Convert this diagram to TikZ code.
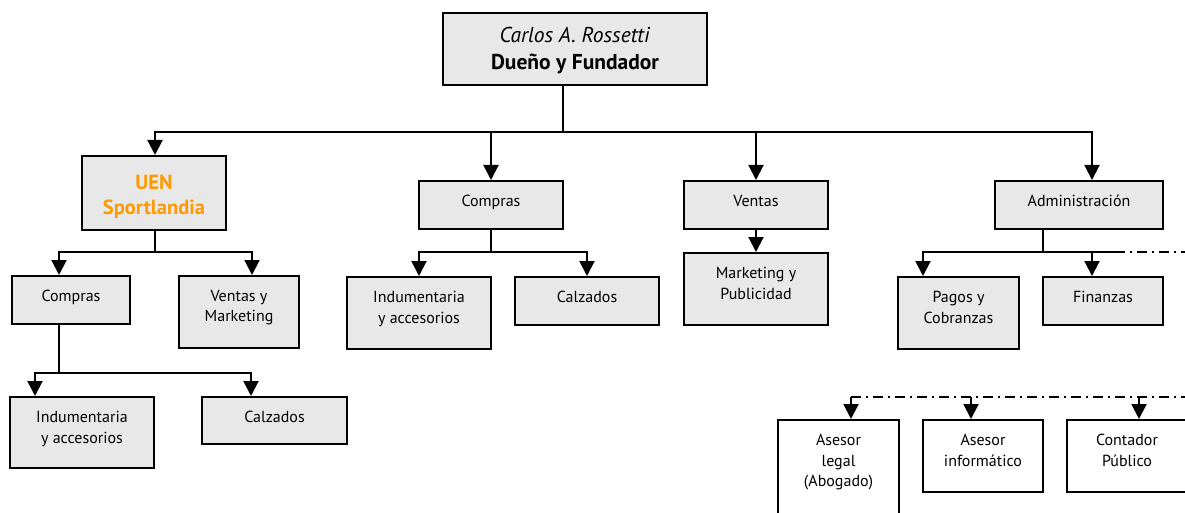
\documentclass[tikz,border=0pt]{standalone}
\usepackage{fontspec}
\setmainfont{PT Sans}
\usetikzlibrary{arrows.meta,calc}
\definecolor{boxgray}{HTML}{E8E8E8}
\definecolor{uenorange}{HTML}{FF9A00}
\tikzset{
  box/.style={draw=black, line width=2pt, fill=boxgray, rectangle, inner sep=0pt},
  wbox/.style={box, fill=white},
  txt/.style={anchor=north, align=center, inner sep=0pt, font=\fontsize{16}{20.5}\selectfont},
  conn/.style={line width=2pt},
  arr/.style={conn, -{Triangle[length=15pt,width=15pt]}},
  dd/.style={line width=2pt, dash pattern=on 10pt off 5pt on 2pt off 5pt},
}
\begin{document}
\begin{tikzpicture}[x=1pt,y=-1pt]
\useasboundingbox (0,0) rectangle (1185,513);
\clip (0,0) rectangle (1185,513);
\fill[white] (0,0) rectangle (1185,513);
% boxes
\node[box, minimum width=264pt, minimum height=72pt] (top) at (575,49) {};
\node[box, minimum width=144pt, minimum height=74pt] (uen) at (154,193) {};
\node[box, minimum width=144pt, minimum height=48pt] (com1) at (491,205) {};
\node[box, minimum width=144pt, minimum height=48pt] (ven1) at (756,205) {};
\node[box, minimum width=168pt, minimum height=48pt] (adm) at (1079,205) {};
\node[box, minimum width=118pt, minimum height=48pt] (com2) at (71,300) {};
\node[box, minimum width=120pt, minimum height=72pt] (vym) at (239,312) {};
\node[box, minimum width=144pt, minimum height=71pt] (ind1) at (82,432.5) {};
\node[box, minimum width=145pt, minimum height=47pt] (cal1) at (274.5,420.5) {};
\node[box, minimum width=144pt, minimum height=72pt] (ind2) at (419,313) {};
\node[box, minimum width=144pt, minimum height=48pt] (cal2) at (587,301) {};
\node[box, minimum width=144pt, minimum height=72pt] (myp) at (756,289) {};
\node[box, minimum width=121pt, minimum height=72pt] (pag) at (958.5,313) {};
\node[box, minimum width=120pt, minimum height=48pt] (fin) at (1103,301) {};
\node[wbox, minimum width=121pt, minimum height=120pt] (leg) at (838.5,480) {};
\node[wbox, minimum width=120pt, minimum height=72pt] (inf) at (983,456) {};
\node[wbox, minimum width=120pt, minimum height=72pt] (con) at (1127,456) {};
% texts
\node[anchor=center, align=center, inner sep=0pt, font=\fontsize{21.5}{27}\selectfont] (topt) at (575,51) {\textit{Carlos A. Rossetti}\\\textbf{Dueño y Fundador}};
\node[anchor=center, align=center, inner sep=0pt, text=uenorange, font=\bfseries\fontsize{20.5}{25}\selectfont] (uent) at (154,197) {UEN\\Sportlandia};
\node[txt] (com1t) at ([yshift=-15pt]com1.north) {Compras};
\node[txt] (ven1t) at ([yshift=-15pt]ven1.north) {Ventas};
\node[txt] (admt) at ([yshift=-15pt]adm.north) {Administración};
\node[txt] (com2t) at ([yshift=-15pt]com2.north) {Compras};
\node[txt] (vymt) at ([yshift=-15pt]vym.north) {Ventas y\\Marketing};
\node[txt] (ind1t) at ([yshift=-15pt]ind1.north) {Indumentaria\\y accesorios};
\node[txt] (cal1t) at ([yshift=-15pt]cal1.north) {Calzados};
\node[txt] (ind2t) at ([yshift=-15pt]ind2.north) {Indumentaria\\y accesorios};
\node[txt] (cal2t) at ([yshift=-15pt]cal2.north) {Calzados};
\node[txt] (mypt) at ([yshift=-15pt]myp.north) {Marketing y\\Publicidad};
\node[txt] (pagt) at ([yshift=-15pt]pag.north) {Pagos y\\Cobranzas};
\node[txt] (fint) at ([yshift=-15pt]fin.north) {Finanzas};
\node[txt] (legt) at ([yshift=-15pt]leg.north) {Asesor\\legal\\(Abogado)};
\node[txt] (inft) at ([yshift=-15pt]inf.north) {Asesor\\informático};
\node[txt] (cont) at ([yshift=-15pt]con.north) {Contador\\Público};
% level 1
\coordinate (j0) at (563,132);
\draw[conn] ([xshift=-12pt]top.south) -- (j0);
\draw[arr] (j0) -| ([xshift=1pt]uen.north);
\draw[arr] (j0) -| (com1.north);
\draw[arr] (j0) -| (ven1.north);
\draw[arr] (j0) -| ([xshift=13pt]adm.north);
% UEN children
\coordinate (j1) at (155,252);
\draw[conn] ([xshift=1pt]uen.south) -- (j1);
\draw[arr] (j1) -| ([xshift=-12pt]com2.north);
\draw[arr] (j1) -| ([xshift=13pt]vym.north);
% Compras (UEN) children
\coordinate (j2) at (59,373);
\draw[conn] ([xshift=-12pt]com2.south) -- (j2);
\draw[arr] (j2) -| ([xshift=-47pt]ind1.north);
\draw[arr] (j2) -| ([xshift=-23.5pt]cal1.north);
% Compras children
\coordinate (j3) at (491,252);
\draw[conn] (com1.south) -- (j3);
\draw[arr] (j3) -| (ind2.north);
\draw[arr] (j3) -| (cal2.north);
% Ventas child
\draw[arr] (ven1.south) -- (myp.north);
% Administracion children
\coordinate (j4) at (1043,252);
\coordinate (j5) at (1115,252);
\coordinate (e1) at (1190,252);
\draw[conn] ([xshift=-36pt]adm.south) -- (j4);
\draw[arr] (j4) -| ([xshift=-35.5pt]pag.north);
\draw[conn] (j4) -- (j5);
\draw[arr] (j4) -| ([xshift=-11pt]fin.north);
\draw[dd] (j5) -- (e1);
% advisors
\coordinate (j6) at (851,397);
\coordinate (e2) at (1190,397);
\draw[dd] (j6) -- (e2);
\draw[arr] (j6) -- ([xshift=12.5pt]leg.north);
\draw[arr] (j6 -| inf.north) ++(-12pt,0) -- ([xshift=-12pt]inf.north);
\draw[arr] (j6 -| con.north) ++(12pt,0) -- ([xshift=12pt]con.north);
\end{tikzpicture}
\end{document}
